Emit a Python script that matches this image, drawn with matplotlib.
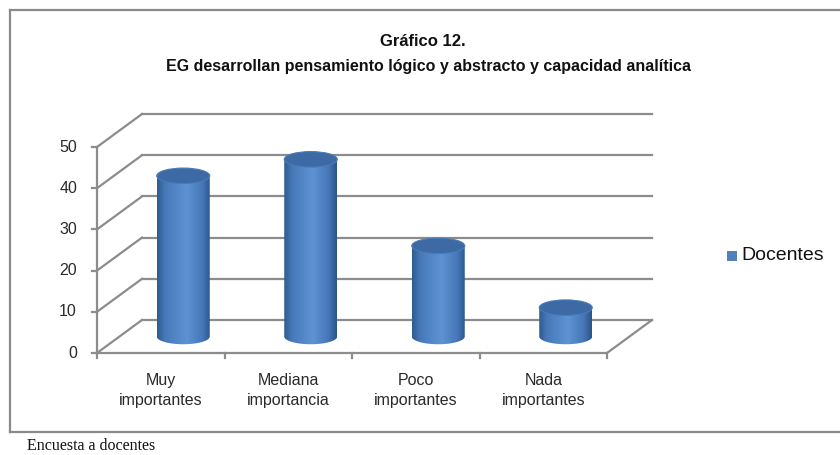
import numpy as np
import matplotlib
matplotlib.use("Agg")
import matplotlib.pyplot as plt
from matplotlib.path import Path
from matplotlib.patches import PathPatch, Ellipse, Rectangle
from matplotlib.colors import LinearSegmentedColormap
from matplotlib.lines import Line2D

categories = ["Muy\nimportantes", "Mediana\nimportancia", "Poco\nimportantes", "Nada\nimportantes"]
series_name = "Docentes"
values = [39, 43, 22, 7]
y_ticks = [0, 10, 20, 30, 40, 50]
title = "Gráfico 12."
subtitle = "EG desarrollan pensamiento lógico y abstracto y capacidad analítica"
source = "Encuesta a docentes"

W, H = 840, 455
fig = plt.figure(figsize=(W / 100, H / 100), dpi=100)

FONT = ["Liberation Sans", "DejaVu Sans"]

# Axes covering whole figure; front plane: x in categories, y in values
ax = fig.add_axes([0, 0, 1, 1])
px_per_cat = 127.5
px_per_val = 4.12
x0_px, y0_px = 97, 353
ax.set_xlim(-x0_px / px_per_cat, (W - x0_px) / px_per_cat)
ax.set_ylim(-(H - y0_px) / px_per_val, y0_px / px_per_val)
ax.axis("off")

n = len(categories)
dx = 45 / px_per_cat     # depth offset in category units
dy = 33 / px_per_val     # depth offset in value units
gcol = "#8c8c8c"
glw = 1.6

# back wall gridlines and left wall diagonals
for v in y_ticks:
    ax.add_line(Line2D([dx, n + dx], [v + dy, v + dy], color=gcol, lw=glw, zorder=1))
    ax.add_line(Line2D([0, dx], [v, v + dy], color=gcol, lw=glw, zorder=1))
# floor
ax.add_line(Line2D([0, n], [0, 0], color=gcol, lw=glw, zorder=1))
ax.add_line(Line2D([n, n + dx], [0, dy], color=gcol, lw=glw, zorder=1))
# front value axis
ax.add_line(Line2D([0, 0], [0, max(y_ticks)], color=gcol, lw=glw, zorder=1))
tick_x = 5 / px_per_cat
tick_y = 5 / px_per_val
for v in y_ticks:
    ax.add_line(Line2D([-tick_x, 0], [v, v], color=gcol, lw=glw, zorder=1))
    ax.text(-20 / px_per_cat, v, str(v), ha="right", va="center",
            fontsize=11.5, color="#2a2a2a", family=FONT)
for i in range(n + 1):
    ax.add_line(Line2D([i, i], [0, -tick_y], color=gcol, lw=glw, zorder=1))
for i, c in enumerate(categories):
    ax.text(i + 0.5, -20 / px_per_val, c, ha="center", va="top",
            fontsize=11.5, color="#2a2a2a", family=FONT, linespacing=1.45)

# cylinders
cmap = LinearSegmentedColormap.from_list(
    "cyl", [(0, "#2e5a8e"), (0.15, "#4779b9"), (0.55, "#5d93d4"),
            (0.85, "#4676b6"), (1, "#2b5488")])
bw = 53 / px_per_cat
eh = 15.5 / px_per_val
base = dy / 2
t = np.linspace(np.pi, 2 * np.pi, 60)
grad = np.linspace(0, 1, 256).reshape(1, -1)
for i, v in enumerate(values):
    cx = i + 0.5 + dx / 2
    xl, xr = cx - bw / 2, cx + bw / 2
    top = v + base
    arc_x = cx + (bw / 2) * np.cos(t)
    arc_y = base + (eh / 2) * np.sin(t)
    verts = [(xl, top)] + list(zip(arc_x, arc_y)) + [(xr, top), (xl, top)]
    codes = [Path.MOVETO] + [Path.LINETO] * (len(verts) - 2) + [Path.CLOSEPOLY]
    body = PathPatch(Path(verts, codes), facecolor="none", edgecolor="none", zorder=3)
    ax.add_patch(body)
    im = ax.imshow(grad, cmap=cmap, aspect="auto",
                   extent=[xl, xr, base - eh, top + eh], zorder=3,
                   interpolation="bilinear")
    im.set_clip_path(body)
    topell = Ellipse((cx, top), bw, eh, facecolor="#3d6aa4",
                     edgecolor="#4a7bb8", lw=0.8, zorder=4)
    ax.add_patch(topell)

# titles
fig.text(423 / W, 1 - 42 / H, title, ha="center", va="center",
         fontsize=12, fontweight="bold", family=FONT, color="#111111")
fig.text(429 / W, 1 - 66 / H, subtitle, ha="center", va="center",
         fontsize=11.5, fontweight="bold", family=FONT, color="#111111")

# legend
fig.patches.append(Rectangle((727 / W, 1 - 261 / H), 10 / W, 10 / H,
                             transform=fig.transFigure, facecolor="#4f81bd",
                             edgecolor="none", figure=fig))
fig.text(741 / W, 1 - 256 / H, series_name, ha="left", va="center",
         fontsize=14, family=FONT, color="#111111")

# outer border
bc = "#8a8a8a"
fig.add_artist(Line2D([10 / W, 10 / W], [1 - 10 / H, 1 - 432 / H], color=bc, lw=1.6,
                      transform=fig.transFigure))
fig.add_artist(Line2D([10 / W, 1], [1 - 10 / H, 1 - 10 / H], color=bc, lw=1.6,
                      transform=fig.transFigure))
fig.add_artist(Line2D([10 / W, 1], [1 - 432 / H, 1 - 432 / H], color=bc, lw=1.6,
                      transform=fig.transFigure))

fig.text(27 / W, 1 - 446 / H, source, ha="left", va="center", fontsize=11.5,
         family=["Liberation Serif", "DejaVu Serif"], color="#111111")

fig.savefig("out.png", dpi=100)
